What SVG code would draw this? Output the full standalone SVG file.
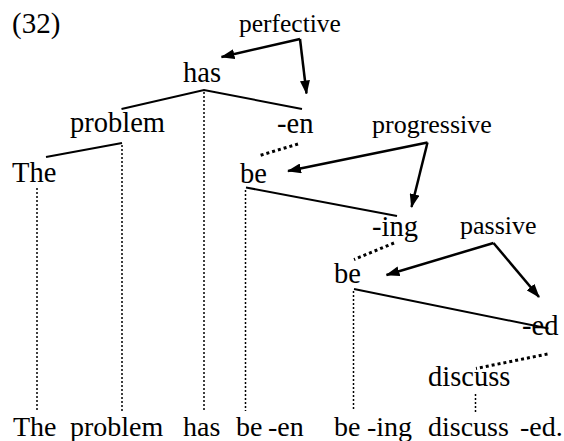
<svg xmlns="http://www.w3.org/2000/svg" width="564" height="441" viewBox="0 0 564 441">
<defs>
<marker id="ah" markerUnits="userSpaceOnUse" markerWidth="14" markerHeight="10" refX="13" refY="5" orient="auto" viewBox="0 0 14 10">
<path d="M0,0 L14,5 L0,10 z" fill="#000"/>
</marker>
</defs>
<rect width="564" height="441" fill="#fff"/>
<text id="num" font-family="Liberation Serif" font-size="29" x="12" y="33">(32)</text>
<g id="n-perfective"><text font-family="Liberation Serif" font-size="25.5" x="239" y="32">perfective</text></g>
<g id="n-has"><text font-family="Liberation Serif" font-size="28.5" x="183" y="82">has</text></g>
<g id="n-problem"><text font-family="Liberation Serif" font-size="28.5" x="70" y="132">problem</text></g>
<g id="n-en"><text font-family="Liberation Serif" font-size="28.5" x="277" y="133">-en</text></g>
<g id="n-progressive"><text font-family="Liberation Serif" font-size="26" x="372" y="133">progressive</text></g>
<g id="n-the"><text font-family="Liberation Serif" font-size="28.5" x="12" y="182">The</text></g>
<g id="n-be1"><text font-family="Liberation Serif" font-size="28.5" x="240" y="183">be</text></g>
<g id="n-ing"><text font-family="Liberation Serif" font-size="28.5" x="372" y="236">-ing</text></g>
<g id="n-passive"><text font-family="Liberation Serif" font-size="26" x="460" y="234">passive</text></g>
<g id="n-be2"><text font-family="Liberation Serif" font-size="28.5" x="334" y="283">be</text></g>
<g id="n-ed"><text font-family="Liberation Serif" font-size="28.5" x="522" y="335">-ed</text></g>
<g id="n-discuss"><text font-family="Liberation Serif" font-size="28.5" x="428" y="386">discuss</text></g>
<g id="n-sentence">
<text font-family="Liberation Serif" font-size="28" x="13" y="436">The</text>
<text font-family="Liberation Serif" font-size="28" x="70" y="436">problem</text>
<text font-family="Liberation Serif" font-size="28" x="183" y="436">has</text>
<text font-family="Liberation Serif" font-size="28" x="236" y="436">be</text>
<text font-family="Liberation Serif" font-size="28" x="268" y="436">-en</text>
<text font-family="Liberation Serif" font-size="28" x="334" y="436">be</text>
<text font-family="Liberation Serif" font-size="28" x="367" y="436">-ing</text>
<text font-family="Liberation Serif" font-size="28" x="428" y="436">discuss</text>
<text font-family="Liberation Serif" font-size="28" x="520" y="436">-ed.</text>
</g>
<g id="connectors" stroke="#000" fill="none">
<g stroke-width="2">
<polyline points="121.5,109 204,90 302,109"/>
<line x1="122" y1="143" x2="46" y2="157"/>
<line x1="246" y1="187.5" x2="397" y2="216"/>
<line x1="354" y1="289" x2="548.5" y2="328.5"/>
</g>
<g stroke-width="1.5" stroke-dasharray="2 2">
<line x1="204" y1="92" x2="204" y2="411"/>
<line x1="122" y1="145" x2="122" y2="411"/>
<line x1="37" y1="188" x2="37" y2="411"/>
<line x1="245.5" y1="190" x2="245.5" y2="411"/>
<line x1="353.5" y1="291" x2="353.5" y2="411"/>
<line x1="475.5" y1="394" x2="475.5" y2="412"/>
</g>
<g stroke-width="3" stroke-dasharray="3 3">
<line x1="298" y1="144" x2="258" y2="156"/>
<line x1="394" y1="243" x2="354" y2="259.5"/>
<line x1="547.5" y1="354" x2="476" y2="368.5"/>
</g>
<g stroke-width="2.5" marker-end="url(#ah)">
<polyline points="300,39 221.5,57"/>
<polyline points="300,39 306.5,93.5"/>
<polyline points="427.5,142.5 288,171"/>
<polyline points="427.5,142.5 411.5,207"/>
<polyline points="493.5,243 386.5,275"/>
<polyline points="493.5,243 539,297"/>
</g>
</g>
</svg>
